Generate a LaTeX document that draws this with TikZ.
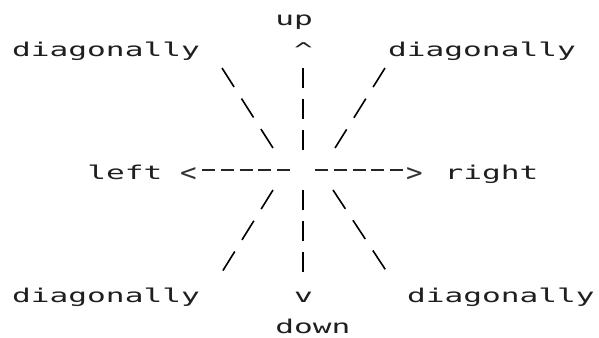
\documentclass[tikz,border=0pt]{standalone}
\usepackage{fontspec}
\newfontfamily\dotfont[FakeStretch=1.64]{DejaVu Sans Mono}
\newfontfamily\tipfont[FakeStretch=1.1]{DejaVu Sans Mono}
\begin{document}
\begin{tikzpicture}[x=1pt,y=-1pt,
  lbl/.style={anchor=base west,inner sep=0pt,text=black!88,font=\dotfont\fontsize{19}{19}\selectfont},
  tiplbl/.style={anchor=base west,inner sep=0pt,text=black!80,font=\tipfont\fontsize{25}{25}\selectfont},
  bar/.style={line width=1.6pt,dash pattern=on 20pt off 11pt},
  slant/.style={line width=1.6pt,dash pattern=on 22.5pt off 13.7pt},
  hdash/.style={line width=1.3pt,dash pattern=on 13pt off 5.8pt,black!85}]
\useasboundingbox (0,0) rectangle (599,337);
% labels
\node[lbl] (up)    at (275.2,26)   {up};
\node[lbl] (uptip) at (294,56.7)   {\textasciicircum};
\node[lbl] (dtl)   at (12,56.7)    {diagonally};
\node[lbl] (dtr)   at (388,56.7)   {diagonally};
\node[lbl] (left)  at (87.2,179.5) {left};
\node[tiplbl] (ltip)  at (180,181) {<};
\node[tiplbl] (rtip)  at (406,181) {>};
\node[lbl] (right) at (444.4,179.5) {right};
\node[lbl] (dbl)   at (12,302)     {diagonally};
\node[lbl] (dntip) at (294,302)    {v};
\node[lbl] (dbr)   at (406.8,302)  {diagonally};
\node[lbl] (down)  at (275.2,333)  {down};
% connector end points
\coordinate (u1) at (303,68);   \coordinate (u2) at (303,150);
\coordinate (d1) at (303,190);  \coordinate (d2) at (303,272);
\coordinate (l1) at (202,170);  \coordinate (l2) at (293,170);
\coordinate (r1) at (315,170);  \coordinate (r2) at (406,170);
\coordinate (tl1) at (222,68);  \coordinate (tl2) at (273,148);
\coordinate (tr1) at (385,68);  \coordinate (tr2) at (335,148);
\coordinate (bl1) at (273,190); \coordinate (bl2) at (222,272);
\coordinate (br1) at (333,190); \coordinate (br2) at (387,272);
% connectors
\draw[bar] (u1) -- (u2);
\draw[bar] (d1) -- (d2);
\draw[hdash] (l1) -- (l2);
\draw[hdash] (r1) -- (r2);
\draw[slant] (tl1) -- (tl2);
\draw[slant] (tr1) -- (tr2);
\draw[slant] (bl1) -- (bl2);
\draw[slant] (br1) -- (br2);
\end{tikzpicture}
\end{document}
